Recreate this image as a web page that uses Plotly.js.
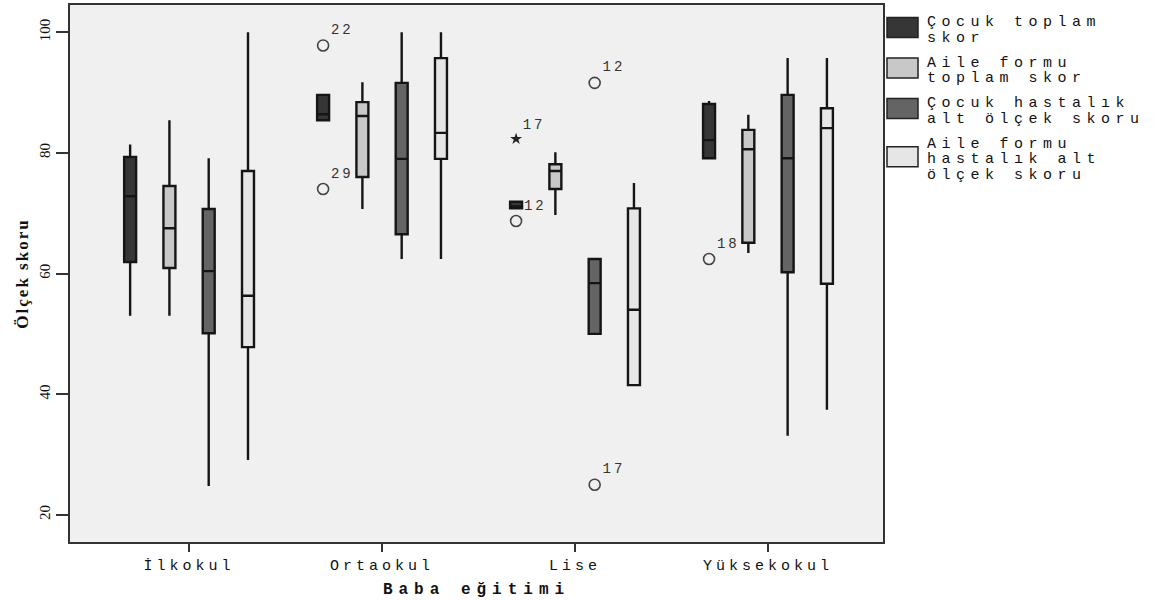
<!DOCTYPE html>
<html>
<head>
<meta charset="utf-8">
<script src="https://cdn.plot.ly/plotly-3.0.1.min.js"></script>
<style>
  html, body { margin: 0; padding: 0; background: #ffffff; }
  #chart { width: 1173px; height: 601px; }
  .xtick text { letter-spacing: 4px; }
  .g-xtitle text { letter-spacing: 6px; }
  .g-ytitle text { letter-spacing: 2px; }
  .annotation-text { letter-spacing: 5.5px; }
  .textpoint text { letter-spacing: 3px; }
</style>
</head>
<body>
<div id="chart"></div>
<script>
// Education level of the father (x categories)
const categories = ['İlkokul', 'Ortaokul', 'Lise', 'Yüksekokul'];

// Score series, one box per category each
const seriesNames = [
  'Çocuk toplam skor',
  'Aile formu toplam skor',
  'Çocuk hastalık alt ölçek skoru',
  'Aile formu hastalık alt ölçek skoru'
];
const legendLines = [
  ['Çocuk toplam', 'skor'],
  ['Aile formu', 'toplam skor'],
  ['Çocuk hastalık', 'alt ölçek skoru'],
  ['Aile formu', 'hastalık alt', 'ölçek skoru']
];

// Box statistics: one row per series, one value per category
const lowerWhisker = [
  [53.0, 85.4, 70.8, 79.0],
  [53.0, 70.7, 69.7, 63.4],
  [24.8, 62.4, 50.0, 33.1],
  [29.1, 62.4, 41.5, 37.4]
];
const quartile1 = [
  [61.9, 85.4, 70.8, 79.1],
  [60.9, 76.0, 74.0, 65.1],
  [50.1, 66.5, 50.0, 60.2],
  [47.8, 79.0, 41.5, 58.3]
];
const medians = [
  [72.8, 86.4, 71.1, 82.1],
  [67.5, 86.1, 77.0, 80.6],
  [60.4, 79.0, 58.4, 79.1],
  [56.3, 83.3, 54.0, 84.1]
];
const quartile3 = [
  [79.3, 89.6, 71.9, 88.1],
  [74.5, 88.4, 78.1, 83.8],
  [70.7, 91.6, 62.4, 89.6],
  [77.0, 95.7, 70.8, 87.4]
];
const upperWhisker = [
  [81.4, 89.6, 71.9, 88.6],
  [85.4, 91.7, 80.1, 86.3],
  [79.1, 100.0, 62.4, 95.7],
  [100.0, 100.0, 75.0, 95.7]
];

// Outlying cases (o) and extreme cases (*) with their case numbers
const outlierCategory = [1, 1, 2, 2, 2, 2, 3];
const outlierSeries   = [0, 0, 0, 0, 2, 2, 0];
const outlierValue    = [97.8, 74.0, 82.3, 68.7, 91.6, 25.0, 62.4];
const outlierCase     = ['22', '29', '17', '12', '12', '17', '18'];
const outlierKind     = ['o', 'o', '*', 'o', 'o', 'o', 'o'];

const yTicks = [20, 40, 60, 80, 100];

// Styling
const fills = ['#363636', '#c8c8c8', '#646464', '#e6e6e6'];
const slotStep = 0.2036;   // spacing between series boxes inside a category
const boxWidth = 0.062;
const monoFont = 'Liberation Mono, Courier New, monospace';
const serifFont = 'Liberation Serif, Times New Roman, serif';

const margin = { l: 70, r: 290, t: 5, b: 59 };
const plotW = 1173 - margin.l - margin.r;
const plotH = 601 - margin.t - margin.b;
const pxToPaperX = px => (px - margin.l) / plotW;
const pxToPaperY = py => (601 - margin.b - py) / plotH;

const slotX = (cat, s) => cat + (s - (seriesNames.length - 1) / 2) * slotStep;

const traces = seriesNames.map((name, s) => ({
  type: 'box',
  name: name,
  x: categories.map((c, i) => slotX(i, s)),
  q1: quartile1[s],
  median: medians[s],
  q3: quartile3[s],
  lowerfence: lowerWhisker[s],
  upperfence: upperWhisker[s],
  width: boxWidth,
  whiskerwidth: 0,
  boxpoints: false,
  fillcolor: fills[s],
  line: { color: '#151515', width: 2.4 },
  hoverinfo: 'skip',
  showlegend: false
}));

['o', '*'].forEach(kind => {
  const idx = outlierKind.map((k, i) => k === kind ? i : -1).filter(i => i >= 0);
  traces.push({
    type: 'scatter',
    mode: 'markers+text',
    x: idx.map(i => slotX(outlierCategory[i], outlierSeries[i])),
    y: idx.map(i => outlierValue[i]),
    text: idx.map(i => outlierCase[i]),
    textposition: 'top right',
    textfont: { family: monoFont, size: 14, color: '#333333' },
    marker: kind === 'o'
      ? { symbol: 'circle-open', size: 11, color: '#444444', line: { width: 1.6 } }
      : { symbol: 'star', size: 9, color: '#222222' },
    cliponaxis: false,
    hoverinfo: 'skip',
    showlegend: false
  });
});

// Legend drawn as swatches with wrapped labels to the right of the plot
const shapes = [];
const annotations = [];
const lineH = 15.5, entryGap = 9.5, swatchW = 31, swatchH = 20;
let cursor = 14;
legendLines.forEach((lines, s) => {
  const blockH = lines.length * lineH;
  const center = cursor + blockH / 2;
  shapes.push({
    type: 'rect', xref: 'paper', yref: 'paper',
    x0: pxToPaperX(887), x1: pxToPaperX(887 + swatchW),
    y0: pxToPaperY(center - 2 - swatchH / 2), y1: pxToPaperY(center - 2 + swatchH / 2),
    fillcolor: fills[s], line: { color: '#222222', width: 1.5 }
  });
  lines.forEach((txt, j) => {
    annotations.push({
      xref: 'paper', yref: 'paper',
      x: pxToPaperX(925), y: pxToPaperY(cursor + (j + 0.5) * lineH + 1),
      xanchor: 'left', yanchor: 'middle',
      text: txt, showarrow: false,
      font: { family: monoFont, size: 15, color: '#111111' }
    });
  });
  cursor += blockH + entryGap;
});

const layout = {
  width: 1173,
  height: 601,
  margin: margin,
  paper_bgcolor: '#ffffff',
  plot_bgcolor: '#f0f0f0',
  showlegend: false,
  xaxis: {
    type: 'linear',
    range: [-0.617, 3.596],
    tickvals: categories.map((c, i) => i),
    ticktext: categories,
    ticks: 'outside', ticklen: 8, tickwidth: 2, tickcolor: '#333333',
    showline: true, mirror: true, linecolor: '#333333', linewidth: 2,
    showgrid: false, zeroline: false,
    tickfont: { family: monoFont, size: 15, color: '#111111' },
    title: { text: 'Baba eğitimi', standoff: 9,
             font: { family: monoFont, size: 16, color: '#111111', weight: 'bold' } }
  },
  yaxis: {
    range: [15.5, 104.5],
    tickvals: yTicks,
    ticks: 'outside', ticklen: 12, tickwidth: 2, tickcolor: '#333333',
    tickangle: -90,
    showline: true, mirror: true, linecolor: '#333333', linewidth: 2,
    showgrid: false, zeroline: false,
    tickfont: { family: serifFont, size: 15, color: '#111111' },
    title: { text: 'Ölçek skoru', standoff: 4,
             font: { family: serifFont, size: 17, color: '#111111', weight: 'bold' } }
  },
  shapes: shapes,
  annotations: annotations
};

Plotly.newPlot('chart', traces, layout, { staticPlot: true, displayModeBar: false });
</script>
</body>
</html>
